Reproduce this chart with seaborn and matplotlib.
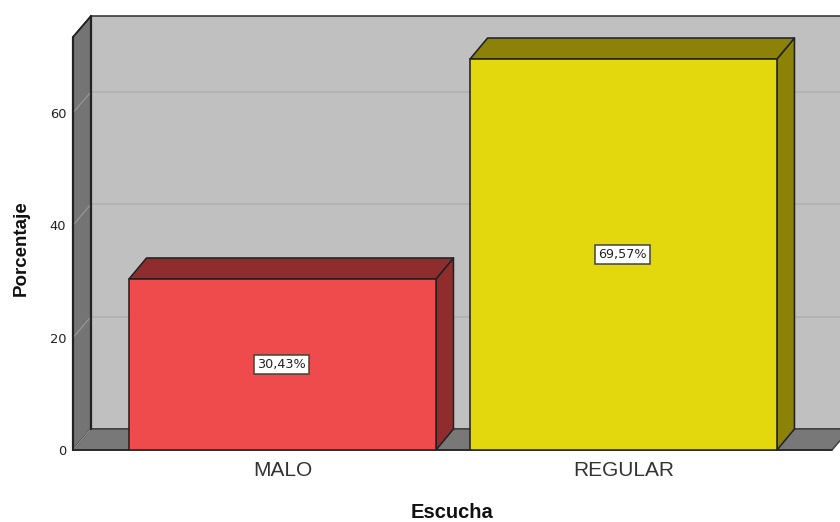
import matplotlib
matplotlib.use("Agg")
import matplotlib.pyplot as plt
import pandas as pd
import seaborn as sns
from matplotlib.patches import Polygon

categories = ["MALO", "REGULAR"]
percentages = [30.43, 69.57]
value_labels = ["30,43%", "69,57%"]
y_ticks = [0, 20, 40, 60]

FRONT = ["#EF4B4D", "#E3D80D"]
DARK = ["#8F2D2E", "#8C8207"]
W, H = 840, 522
L, R, B, T = 73, 832, 450, 37
DX, DY = 18, 21
EDGE = "#222222"
LW = 1.15

sns.set_theme(style="white")
plt.rcParams["font.family"] = ["Liberation Sans", "DejaVu Sans"]

fig = plt.figure(figsize=(W / 100, H / 100), dpi=100)
ax = fig.add_axes([L / W, 1 - B / H, (R - L) / W, (B - T) / H])
df = pd.DataFrame({"Escucha": categories, "Porcentaje": percentages})
sns.barplot(data=df, x="Escucha", y="Porcentaje", hue="Escucha", palette=FRONT,
            legend=False, width=0.9, saturation=1, edgecolor=EDGE, linewidth=LW,
            ax=ax, zorder=6)
step = 341
ax.set_xlim((L - 282.5) / step, (R - 282.5) / step)
ax.set_ylim(0, (B - T) / 5.62)
ax.patch.set_visible(False)
for s in ax.spines.values():
    s.set_visible(False)


def poly(pts, fc, z, ec=EDGE, lw=LW):
    """Draw a closed face whose corners are display-space points."""
    ax.add_patch(Polygon(pts, closed=True, fc=fc, ec=ec, lw=lw, transform=None,
                         zorder=z, clip_on=False, joinstyle="round"))


def seg(xs, ys, color, lw, z):
    ax.plot(xs, ys, color=color, lw=lw, transform=None, zorder=z, clip_on=False)


fig.canvas.draw()
x0, y0 = ax.transAxes.transform((0, 0))
x1, y1 = ax.transAxes.transform((1, 1))

# Back wall, left wall and floor of the box
poly([(x0 + DX, y0 + DY), (x1 + DX, y0 + DY), (x1 + DX, y1 + DY), (x0 + DX, y1 + DY)],
     "#C0C0C0", 1, ec="#333333")
poly([(x0, y0), (x0 + DX, y0 + DY), (x0 + DX, y1 + DY), (x0, y1)], "#747474", 2)
poly([(x0, y0), (x1, y0), (x1 + DX, y0 + DY), (x0 + DX, y0 + DY)], "#787878", 2, ec="#444444")
seg([x0, x0 + DX], [y0, y0 + DY], "#969696", 0.8, 3)

# Gridlines wrap from the left wall onto the back wall
for t in y_ticks[1:]:
    _, yp = ax.transData.transform((0, t))
    seg([x0 + DX, x1 + DX], [yp + DY, yp + DY], "#B0B0B0", 1.1, 3)
    seg([x0, x0 + DX], [yp, yp + DY], "#969696", 0.9, 3)

# Redraw the dark wall edges above the gridlines
seg([x0 + DX, x0 + DX], [y0 + DY, y1 + DY], EDGE, 1.6, 4)
seg([x0, x0], [y0, y1], EDGE, 1.6, 4)
seg([x0, x0 + DX], [y1, y1 + DY], EDGE, LW, 4)
seg([x0, x1], [y0, y0], EDGE, LW, 4)

# Bar side and top faces, built from each bar's own rectangle
BDX = 17.5
for bar, dark, lab in zip(ax.patches[:2], DARK, value_labels):
    xa, ya = ax.transData.transform((bar.get_x(), 0))
    xb, yb = ax.transData.transform((bar.get_x() + bar.get_width(), bar.get_height()))
    poly([(xb, ya), (xb + BDX, ya + DY), (xb + BDX, yb + DY), (xb, yb)], dark, 5)
    poly([(xa, yb), (xb, yb), (xb + BDX, yb + DY), (xa + BDX, yb + DY)], dark, 5)
    ax.text(bar.get_x() + bar.get_width() / 2 - 0.003, bar.get_height() / 2, lab, ha="center", va="center",
            fontsize=9.2, family="DejaVu Sans", color="#222222", zorder=8,
            bbox=dict(boxstyle="square,pad=0.24", fc="white", ec="#444433", lw=1.1))

ax.set_yticks(y_ticks)
ax.tick_params(axis="y", length=0, labelsize=9.4, pad=4.8, labelcolor="#222222")
for lbl in ax.get_yticklabels():
    lbl.set_family("DejaVu Sans")
ax.tick_params(axis="x", length=0, labelsize=15, pad=8, labelcolor="#333333")
ax.set_xlabel("")
ax.set_ylabel("")
fig.text(452.5 / W, 1 - 512 / H, "Escucha", ha="center", va="center", fontsize=14.5,
         fontweight="bold", color="#111111")
fig.text(21 / W, 1 - 248.5 / H, "Porcentaje", ha="center", va="center", rotation=90,
         fontsize=13.5, fontweight="bold", color="#111111")
fig.savefig("out.png", dpi=100, facecolor="white")
